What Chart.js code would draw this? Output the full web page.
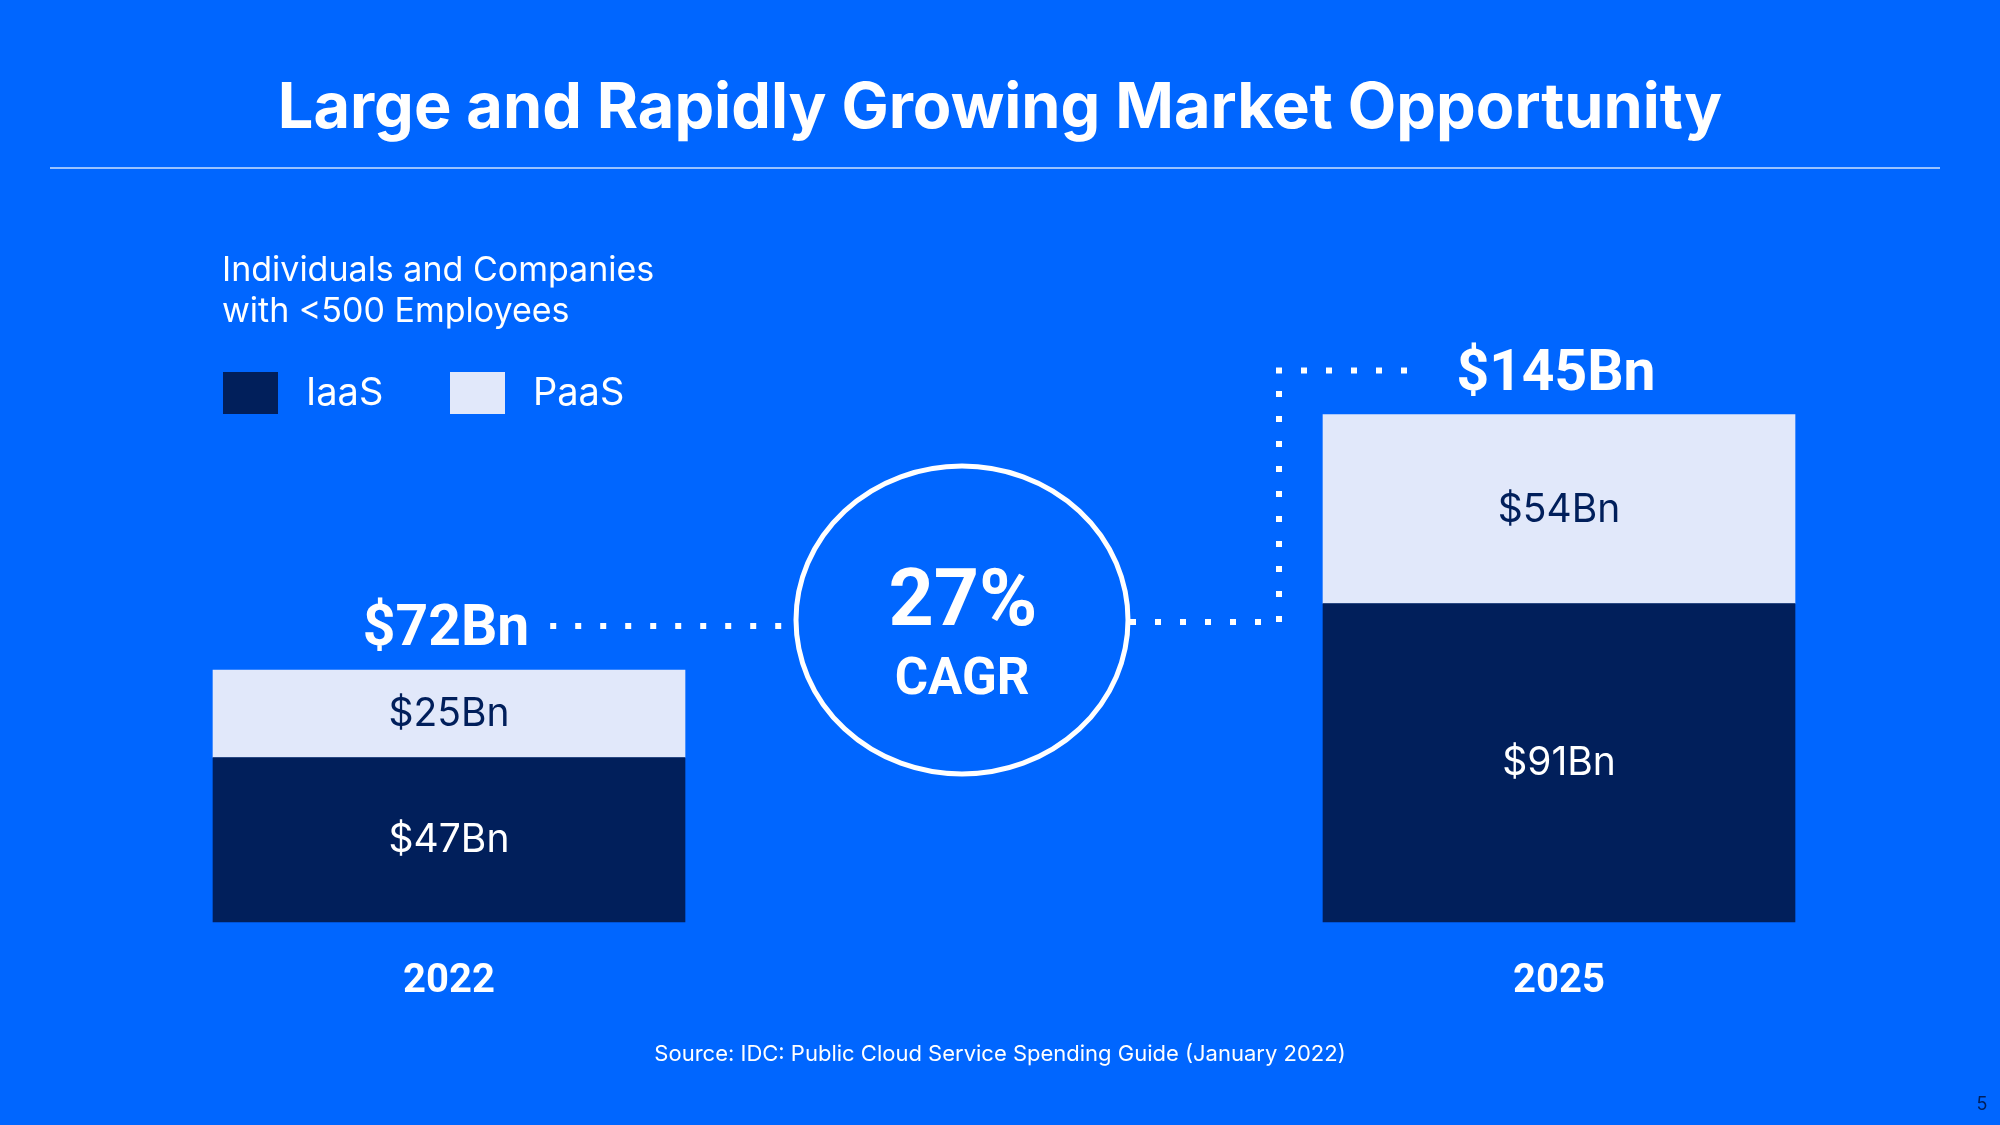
<!DOCTYPE html>
<html>
<head>
<meta charset="utf-8">
<script src="https://cdn.jsdelivr.net/npm/chart.js@4.4.1/dist/chart.umd.min.js"></script>
<style>
  html, body { margin:0; padding:0; background:#0066ff; }
  #wrap { position:relative; width:2000px; height:1125px; overflow:hidden; background:#0066ff; }
  #wrap canvas { position:absolute; left:0; top:0; }
</style>
</head>
<body>
<div id="wrap"><canvas id="chMarket" width="2000" height="1125"></canvas></div>
<script>
// data ($Bn)
const YEARS  = ['2022', '2025'];
const IAAS   = [47, 91];
const PAAS   = [25, 54];
const TOTALS = [72, 145];
const CAGR   = '27%';

const NAVY = '#011f5b', PALE = '#e1e8fa', WHITE = '#ffffff';
const SANS = 'Inter, "Noto Sans", sans-serif';
const BOLD = 'Roboto, "Liberation Sans", sans-serif';

// everything around the bars: title, legend, value labels, dotted connectors, CAGR ring
const deco = {
  id: 'deco',
  afterDraw(chart) {
    const ctx = chart.ctx;
    ctx.save();

    // title + rule
    ctx.fillStyle = WHITE;
    ctx.textAlign = 'center'; ctx.textBaseline = 'alphabetic';
    ctx.font = `700 63px ${SANS}`;
    ctx.fillText('Large and Rapidly Growing Market Opportunity', 1000, 128);
    ctx.strokeStyle = 'rgba(255,255,255,0.6)'; ctx.lineWidth = 2;
    ctx.beginPath(); ctx.moveTo(50, 168); ctx.lineTo(1940, 168); ctx.stroke();

    // subtitle
    ctx.textAlign = 'left';
    ctx.font = `400 34px ${SANS}`;
    ctx.fillText('Individuals and Companies', 222, 281);
    ctx.fillText('with <500 Employees', 222, 322);

    // legend
    ctx.font = `400 38px ${SANS}`;
    [[NAVY, 'IaaS', 223, 306], [PALE, 'PaaS', 450, 533]].forEach(([col, lbl, bx, tx]) => {
      ctx.fillStyle = col; ctx.fillRect(bx, 372, 55, 42);
      ctx.fillStyle = WHITE; ctx.fillText(lbl, tx, 405);
    });

    // segment labels
    ctx.textAlign = 'center'; ctx.textBaseline = 'middle';
    ctx.font = `400 39px ${SANS}`;
    [IAAS, PAAS].forEach((vals, di) => {
      chart.getDatasetMeta(di).data.forEach((el, i) => {
        ctx.fillStyle = di === 0 ? WHITE : NAVY;
        ctx.fillText('$' + vals[i] + 'Bn', el.x, (el.y + el.base) / 2 + 1);
      });
    });

    // totals above bars
    const tops = chart.getDatasetMeta(1).data;
    ctx.fillStyle = WHITE; ctx.textBaseline = 'alphabetic';
    ctx.font = `700 57px ${BOLD}`;
    const tl = [];
    tops.forEach((el, i) => {
      const s = '$' + TOTALS[i] + 'Bn';
      ctx.fillText(s, el.x - 3, el.y - 25);
      const w = ctx.measureText(s).width;
      tl.push({ l: el.x - 3 - w / 2, r: el.x - 3 + w / 2, mid: el.y - 44 });
    });

    // CAGR ring
    const cx = 962, cy = 620, rx = 166, ry = 154;
    ctx.strokeStyle = WHITE; ctx.lineWidth = 5;
    ctx.beginPath(); ctx.ellipse(cx, cy, rx, ry, 0, 0, Math.PI * 2); ctx.stroke();
    ctx.textAlign = 'center'; ctx.textBaseline = 'middle';
    ctx.font = `700 79px ${BOLD}`;
    ctx.fillText(CAGR, cx + 1, 605);
    ctx.font = `700 51px ${BOLD}`;
    ctx.fillText('CAGR', cx, 681);

    // dotted connectors
    ctx.setLineDash([6, 19]); ctx.lineWidth = 6; ctx.lineCap = 'butt';
    const barL = tops[1].x - 236;
    const line = (x1, y1, x2, y2) => { ctx.beginPath(); ctx.moveTo(x1, y1); ctx.lineTo(x2, y2); ctx.stroke(); };
    line(tl[0].r + 21, tl[0].mid, cx - rx + 2, tl[0].mid);
    line(cx + rx + 2, 622, barL - 60, 622);
    line(barL - 44, 622, barL - 44, tl[1].mid + 8);
    line(barL - 47, tl[1].mid, tl[1].l - 48, tl[1].mid);
    ctx.setLineDash([]);

    // footer
    ctx.fillStyle = WHITE; ctx.font = `400 22px ${SANS}`;
    ctx.fillText('Source: IDC: Public Cloud Service Spending Guide (January 2022)', 1000, 1054);
    ctx.fillStyle = NAVY; ctx.font = `400 18px ${SANS}`;
    ctx.fillText('5', 1982, 1105);
    ctx.restore();
  }
};

new Chart(document.getElementById('chMarket'), {
  type: 'bar',
  data: {
    labels: YEARS,
    datasets: [
      { label: 'IaaS', data: IAAS, backgroundColor: NAVY, barThickness: 472, clip: false },
      { label: 'PaaS', data: PAAS, backgroundColor: PALE, barThickness: 472, clip: false },
    ],
  },
  options: {
    responsive: false, animation: false, devicePixelRatio: 1,
    layout: { padding: { left: 449, right: 441, top: 222, bottom: 83 } },
    plugins: { legend: { display: false }, tooltip: { enabled: false } },
    scales: {
      x: { stacked: true, offset: false,
           grid: { display: false, drawTicks: false }, border: { display: false },
           ticks: { color: WHITE, font: { family: BOLD, weight: 'bold', size: 40 }, padding: 36 } },
      y: { stacked: true, display: false, min: 0, max: 200 },
    },
  },
  plugins: [deco],
});
</script>
</body>
</html>
